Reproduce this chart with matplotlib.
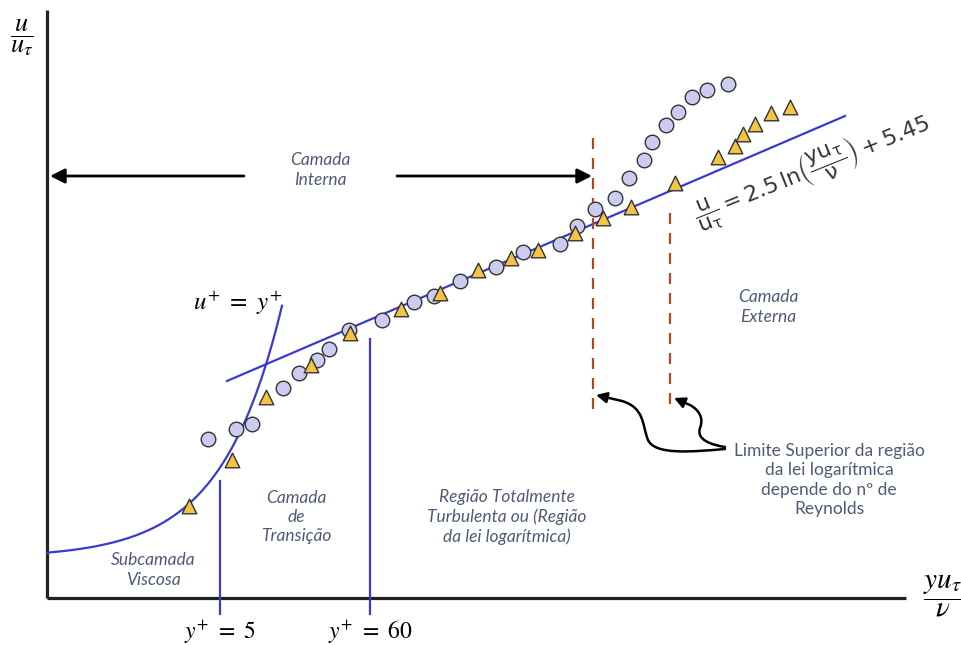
import numpy as np
import matplotlib.pyplot as plt
from matplotlib.path import Path
from matplotlib.patches import FancyArrowPatch

# Esquema do perfil de velocidade junto à parede (lei da parede).
# Coordenadas do esquema: x para a direita, y para baixo (em unidades da figura).
W, H = 961, 645

# pontos experimentais - número de Reynolds maior (círculos)
circ_x = [208, 236, 252, 283, 299, 317, 329, 349, 382, 414, 434, 460, 496,
          523, 560, 577, 595, 615, 629, 644, 652, 666, 678, 692, 707, 728]
circ_y = [439, 429, 424, 388, 373, 360, 349, 330, 320, 302, 296, 281, 267,
          252, 244, 226, 209, 198, 178, 160, 142, 125, 112, 97, 90, 84]

# pontos experimentais - número de Reynolds menor (triângulos)
tri_x = [189, 232, 266, 311, 350, 401, 440, 478, 511, 538, 575, 603, 631,
         675, 718, 735, 743, 755, 771, 790]
tri_y = [506, 460, 397, 365, 333, 309, 293, 270, 258, 250, 233, 218, 207,
         183, 157, 146, 134, 124, 113, 107]

# limites das regiões em y+
y_limits = [5, 60]
y_labels = [r'$y^{+}\ =\ 5$', r'$y^{+}\ =\ 60$']

# lei logarítmica (reta no esquema)
log_x = [227, 845]
log_y = [381, 116]

# limites superiores da lei log (tracejados)
lim_x = [593, 670]
lim_top = [138, 213]

# escala semi-log do esquema: x = X0 + XS*ln(y+), y = U0 - US*u+
X0, XS = 122.85, 60.36
U0, US = 557.8, 18.05


def x_of(yp):
    return X0 + XS * np.log(yp)


def y_of(up):
    return U0 - US * up


BLUE = '#3a3ad2'
DASH = '#b04a1c'
TXT = '#4f5b76'
AXC = '#222222'

fig = plt.figure(figsize=(W / 100, H / 100), dpi=100)
ax = fig.add_axes([0, 0, 1, 1])
ax.set_xlim(0, W)
ax.set_ylim(H, 0)
ax.axis('off')

# eixos
ax.plot([47, 47], [10, 598], color=AXC, lw=2.3, solid_capstyle='butt')
ax.plot([47, 906], [598, 598], color=AXC, lw=2.3, solid_capstyle='butt')

ax.text(22, 37, r'$\dfrac{u}{u_\tau}$', ha='center', va='center',
        fontsize=19, math_fontfamily='stix')
ax.text(943, 596, r'$\dfrac{yu_\tau}{\nu}$', ha='center', va='center',
        fontsize=21, math_fontfamily='stix')

# subcamada viscosa: u+ = y+
yp = np.linspace(np.exp((47 - X0) / XS), np.exp((282 - X0) / XS), 200)
ax.plot(x_of(yp), y_of(yp), color=BLUE, lw=1.6)
ax.text(238, 303, r'$u^{+}\ =\ y^{+}$', ha='center', va='center',
        fontsize=18, math_fontfamily='stix')

# limites y+ = 5 e y+ = 60
tops = [481, 339]
for yl, top, lab in zip(y_limits, tops, y_labels):
    xl = x_of(yl)
    ax.plot([xl, xl], [top, 614], color=BLUE, lw=1.6)
    ax.text(xl, 632, lab, ha='center', va='center', fontsize=17,
            math_fontfamily='stix')

# lei logarítmica
ax.plot(log_x, log_y, color=BLUE, lw=1.6)
ax.text(812, 171,
        r'$\dfrac{\mathrm{u}}{\mathrm{u}_{\mathrm{\tau}}}=2.5\,\mathrm{ln}'
        r'\left(\dfrac{\mathrm{yu}_{\mathrm{\tau}}}{\mathrm{\nu}}\right)+5.45$',
        ha='center', va='center', rotation=22, rotation_mode='anchor',
        fontsize=16, math_fontfamily='dejavusans', color='#333333')

# limites superiores (dependem de Re)
for lx, lt in zip(lim_x, lim_top):
    ax.plot([lx, lx], [lt, 413], color=DASH, lw=1.6, dashes=(5, 4))

# dados
ax.scatter(circ_x, circ_y, s=110, marker='o', facecolor='#cccbf0',
           edgecolor='#333333', linewidth=1.0, zorder=3)
ax.scatter(tri_x, tri_y, s=110, marker='^', facecolor='#f4c545',
           edgecolor='#333333', linewidth=1.0, zorder=4)

# camada interna (setas)
arr = dict(arrowstyle='-|>', color='black', lw=2.0, mutation_scale=22,
           shrinkA=0, shrinkB=0)
ax.annotate('', xy=(50, 176), xytext=(244, 176), arrowprops=arr)
ax.annotate('', xy=(592, 176), xytext=(397, 176), arrowprops=arr)

font = ['Lato', 'DejaVu Sans']
lbl = dict(ha='center', va='center', color=TXT, fontsize=12.5, style='italic',
           family=font, linespacing=1.25)
ax.text(320, 170, 'Camada\nInterna', **lbl)
ax.text(768, 307, 'Camada\nExterna', **lbl)
ax.text(296, 517, 'Camada\nde\nTransição', **lbl)
ax.text(507, 517, 'Região Totalmente\nTurbulenta ou (Região\nda lei logarítmica)', **lbl)
ax.text(153, 570, 'Subcamada\nViscosa', **lbl)
ax.text(829, 480, 'Limite Superior da região\nda lei logarítmica\ndepende do nº de\nReynolds',
        ha='center', va='center', color=TXT, fontsize=12.5, family=font,
        linespacing=1.25)

# setas curvas apontando os tracejados
C4, L2 = Path.CURVE4, Path.LINETO
p1 = Path([(725, 449), (690, 452), (655, 455), (648, 440),
           (642, 425), (645, 408), (622, 401), (596, 395)],
          [Path.MOVETO, C4, C4, C4, C4, C4, C4, L2])
p2 = Path([(725, 447), (712, 445), (696, 440), (700, 428),
           (704, 418), (699, 410), (690, 405), (674, 398)],
          [Path.MOVETO, C4, C4, C4, C4, C4, C4, L2])
for p in (p1, p2):
    ax.add_patch(FancyArrowPatch(path=p, arrowstyle='-|>', color='black',
                                 lw=1.8, mutation_scale=16,
                                 shrinkA=0, shrinkB=0))

fig.savefig('out.png', dpi=100)
